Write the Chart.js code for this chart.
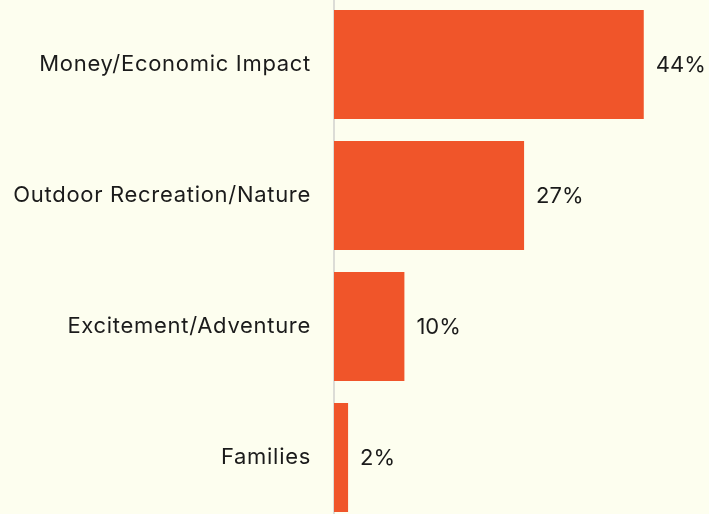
<!DOCTYPE html>
<html>
<head>
<meta charset="utf-8">
<script src="https://cdn.jsdelivr.net/npm/chart.js@4"></script>
<style>
  html, body { margin: 0; padding: 0; background: #fdfeef; overflow: hidden; }
  #wrap { position: absolute; left: 0; top: -1px; width: 709px; height: 524px; }
</style>
</head>
<body>
<div id="wrap"><canvas id="reasonsChart"></canvas></div>
<script>
const categories = ['Money/Economic Impact', 'Outdoor Recreation/Nature', 'Excitement/Adventure', 'Families'];
const shares = [44, 27, 10, 2];

const textColor = '#1b1b1b';
const barColor = '#f0552a';
const font = { family: 'Inter, "Noto Sans", sans-serif', size: 22 };

// slightly looser tracking for the category labels
const tracking = {
  id: 'tracking',
  beforeDraw(chart) {
    chart.ctx.letterSpacing = '0.7px';
  }
};

// percentage label to the right of each bar
const valueLabels = {
  id: 'valueLabels',
  afterDatasetsDraw(chart) {
    const ctx = chart.ctx;
    const meta = chart.getDatasetMeta(0);
    ctx.save();
    ctx.letterSpacing = '0px';
    ctx.font = font.size + 'px ' + font.family;
    ctx.fillStyle = textColor;
    ctx.textAlign = 'left';
    ctx.textBaseline = 'middle';
    meta.data.forEach((bar, i) => {
      ctx.fillText(shares[i] + '%', bar.x + 12, bar.y + 1);
    });
    ctx.restore();
  }
};

const data = {
  labels: categories,
  datasets: [{
    data: shares,
    backgroundColor: barColor,
    borderWidth: 0,
    categoryPercentage: 1,
    barPercentage: 0.832
  }]
};

const config = {
  type: 'bar',
  data: data,
  options: {
    indexAxis: 'y',
    responsive: true,
    maintainAspectRatio: false,
    animation: false,
    layout: { padding: { left: 0, right: 23, top: 0, bottom: 0 } },
    plugins: {
      legend: { display: false },
      tooltip: { enabled: false }
    },
    scales: {
      x: {
        display: false,
        min: 0,
        max: 50
      },
      y: {
        afterFit(scale) {
          scale.width = 334;
          // bars fill the full height, no room reserved for label overhang
          scale.paddingTop = 0;
          scale.paddingBottom = 0;
        },
        grid: { display: false, drawTicks: false },
        border: { display: true, color: '#dcdcd6', width: 2 },
        ticks: { color: textColor, font: font, padding: 23 }
      }
    }
  },
  plugins: [tracking, valueLabels]
};

const reasonsChart = new Chart(document.getElementById('reasonsChart'), config);
</script>
</body>
</html>
